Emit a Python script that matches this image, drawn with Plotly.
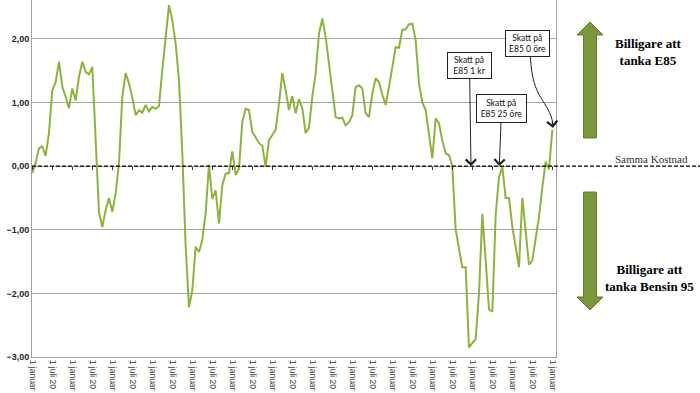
import plotly.graph_objects as go

# Monthly price-difference values (SEK)
values = [-0.11, 0.05, 0.28, 0.31, 0.16, 0.52, 1.19, 1.32, 1.64, 1.25,
          1.09, 0.91, 1.22, 1.03, 1.40, 1.64, 1.48, 1.44, 1.56, 0.35,
          -0.72, -0.96, -0.69, -0.50, -0.72, -0.43, 0.05, 1.09, 1.46, 1.30,
          1.08, 0.80, 0.88, 0.84, 0.96, 0.86, 0.93, 0.90, 0.94, 1.51,
          2.08, 2.53, 2.29, 1.93, 1.35, 0.20, -1.25, -2.22, -1.95, -1.27,
          -1.35, -1.16, -0.74, 0.02, -0.52, -0.38, -0.90, -0.30, -0.12, -0.11,
          0.23, -0.14, -0.04, 0.70, 0.90, 0.88, 0.54, 0.44, 0.36, 0.32,
          -0.01, 0.41, 0.49, 0.57, 0.98, 1.46, 1.19, 0.88, 1.10, 0.83,
          1.05, 0.91, 0.52, 0.60, 1.09, 1.46, 2.08, 2.32, 2.03, 1.56,
          1.19, 0.77, 0.75, 0.76, 0.64, 0.69, 0.80, 1.24, 1.27, 1.22,
          0.83, 0.77, 1.14, 1.38, 1.32, 1.12, 0.96, 1.24, 1.56, 1.87,
          1.86, 2.14, 2.15, 2.23, 2.24, 1.98, 1.30, 1.00, 0.88, 0.51,
          0.12, 0.75, 0.67, 0.40, 0.20, 0.17, 0.00, -1.00, -1.32, -1.59,
          -1.59, -2.85, -2.78, -2.72, -2.00, -0.75, -1.48, -2.25, -2.29, -0.77,
          -0.17, -0.01, -0.50, -0.50, -0.95, -1.27, -1.59, -0.50, -1.05, -1.55,
          -1.48, -1.16, -0.80, -0.33, 0.07, -0.05, 0.57]
months = list(range(len(values)))

tick_months = [0, 6, 12, 18, 24, 30, 36, 42, 48, 54, 60, 66, 72, 78,
               84, 90, 96, 102, 108, 114, 120, 126, 132, 138, 144, 150, 156]
tick_labels = ["1 januar", "1 juli 20", "1 januar", "1 juli 20", "1 januar",
               "1 juli 20", "1 januar", "1 juli 20", "1 januar", "1 juli 20",
               "1 januar", "1 juli 20", "1 januar", "1 juli 20", "1 januar",
               "1 juli 20", "1 januar", "1 juli 20", "1 januar", "1 juli 20",
               "1 januar", "1 juli 20", "1 januar", "1 juli 20", "1 januar",
               "1 juli 20", "1 januar"]
y_ticks = [-3, -2, -1, 0, 1, 2]

# Tax-change annotations: (month, label)
tax_events = [(131.6, "Skatt på<br>E85 1 kr"), (140.1, "Skatt på<br>E85 25 öre")]
tax_final_label = "Skatt på<br>E85 0 öre"

LINE_GREEN = "#8CB43C"
ARROW_GREEN = "#78983A"
ARROW_EDGE = "#62802E"

# plot area in pixels
L, R, T, B = 32, 556, 0, 357
def px(xp, yp):
    return (xp - L) / (R - L), (B - yp) / (B - T)

fig = go.Figure()
fig.add_trace(go.Scatter(x=months, y=values, mode="lines",
                         line=dict(color=LINE_GREEN, width=2),
                         showlegend=False, hoverinfo="skip"))
# invisible copy to carry the tick marks on the zero line
fig.add_trace(go.Scatter(x=months, y=values, mode="lines", xaxis="x2",
                         line=dict(width=0), opacity=0,
                         showlegend=False, hoverinfo="skip"))

shapes = []
shapes.append(dict(type="line", xref="paper", yref="y", x0=0, x1=(700 - L) / (R - L),
                   y0=0, y1=0, line=dict(color="black", width=1.2, dash="4px,2px"),
                   layer="above"))

def poly(points):
    pts = [px(a, b) for a, b in points]
    return "M " + " L ".join(f"{a:.5f},{b:.5f}" for a, b in pts) + " Z"

up_arrow = [(590, 22), (603, 35), (596.5, 35), (596.5, 138), (583.5, 138), (583.5, 35), (577, 35)]
down_arrow = [(583.5, 192), (596.5, 192), (596.5, 297), (603, 297), (590, 310), (577, 297), (583.5, 297)]
for pts in (up_arrow, down_arrow):
    shapes.append(dict(type="path", xref="paper", yref="paper", path=poly(pts),
                       fillcolor=ARROW_GREEN, line=dict(color=ARROW_EDGE, width=1)))

p0 = px(530.5, 57); c1 = px(532, 100); c2 = px(549, 100); p1 = px(553, 124)
shapes.append(dict(type="path", xref="paper", yref="paper",
                   path=f"M {p0[0]:.5f},{p0[1]:.5f} C {c1[0]:.5f},{c1[1]:.5f} {c2[0]:.5f},{c2[1]:.5f} {p1[0]:.5f},{p1[1]:.5f}",
                   line=dict(color="#222", width=1)))

ann = []
box_font = dict(family="Lato", size=8.5, color="#111")
box_specs = [(-1.5, -100.5, 39, 21), (2.2, -57.5, 45, 23)]
for (m, label), (ax, ay, w, h) in zip(tax_events, box_specs):
    ann.append(dict(x=m, y=0, xref="x", yref="y", text=label, showarrow=True,
                    ax=ax, ay=ay, arrowhead=4, arrowsize=2, arrowwidth=1, arrowcolor="#222",
                    bordercolor="#222", borderwidth=1, borderpad=2, bgcolor="white",
                    width=w, height=h, font=box_font))
bx, by = px(527.5, 43.5)
ann.append(dict(x=bx, y=by, xref="paper", yref="paper", text=tax_final_label,
                xanchor="center", yanchor="middle",
                showarrow=False, bordercolor="#222", borderwidth=1, borderpad=2,
                bgcolor="white", width=39, height=21, font=box_font))
ann.append(dict(x=156.2, y=0.6, xref="x", yref="y", text="", showarrow=True,
                ax=-1, ay=-8, arrowhead=4, arrowsize=2, arrowwidth=1, arrowcolor="#222"))

tx, ty = px(651, 159)
ann.append(dict(x=tx, y=ty, xref="paper", yref="paper", text="Samma Kostnad",
                xanchor="center", yanchor="middle", showarrow=False,
                font=dict(family="Liberation Serif", size=11, color="#333")))
tx, ty = px(648, 52)
ann.append(dict(x=tx, y=ty, xref="paper", yref="paper", text="<b>Billigare att<br>tanka E85</b>",
                xanchor="center", yanchor="middle", showarrow=False,
                font=dict(family="Liberation Serif", size=13, color="black")))
tx, ty = px(649, 278)
ann.append(dict(x=tx, y=ty, xref="paper", yref="paper", text="<b>Billigare att<br>tanka Bensin 95</b>",
                xanchor="center", yanchor="middle", showarrow=False,
                font=dict(family="Liberation Serif", size=13, color="black")))

xr = [-0.09, 157.1]
fig.update_layout(
    width=700, height=393,
    margin=dict(l=L, r=700 - R, t=T, b=393 - B, autoexpand=False),
    plot_bgcolor="white", paper_bgcolor="white",
    separators=", ",
    xaxis=dict(range=xr, tickmode="array", tickvals=tick_months, ticktext=tick_labels,
               tickangle=90, tickfont=dict(family="Liberation Sans", size=8.5, color="#404040"),
               showgrid=False, showline=True, linecolor="#A0A0A0", linewidth=1,
               ticks="", zeroline=False, automargin=False),
    xaxis2=dict(range=xr, overlaying="x", anchor="free", position=3 / 5.61,
                tickmode="array", tickvals=tick_months, showticklabels=False,
                ticks="outside", ticklen=3, tickcolor="#333", showgrid=False,
                showline=False, zeroline=False),
    yaxis=dict(range=[-3, 2.61], tickmode="array", tickvals=y_ticks, tickformat=".2f",
               showgrid=True, gridcolor="#A6A6A6", gridwidth=1,
               showline=True, mirror=True, linecolor="#A0A0A0", linewidth=1,
               zeroline=False, ticks="", automargin=False,
               tickfont=dict(family="Liberation Sans", size=9, color="#262626", weight="bold")),
    shapes=shapes, annotations=ann,
)
fig.write_html("out.html", config={"displayModeBar": False},
               post_script="document.body.style.margin='0';")
